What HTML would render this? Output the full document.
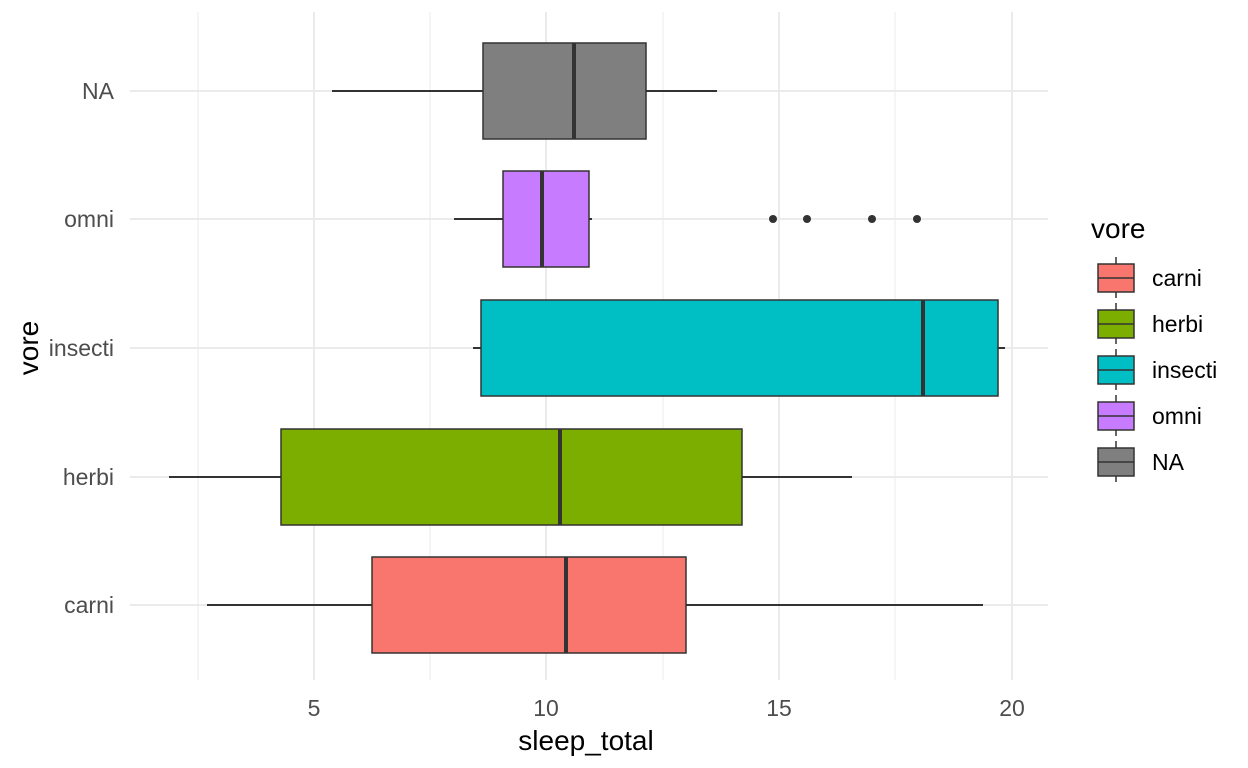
<!DOCTYPE html>
<html><head><meta charset="utf-8"><style>body{margin:0;background:#fff}svg{display:block;font-family:"Liberation Sans",sans-serif}</style></head><body>
<svg width="1248" height="768" viewBox="0 0 1248 768">
<g stroke="#ebebeb" stroke-width="1">
<line x1="198" y1="12" x2="198" y2="680"/><line x1="430" y1="12" x2="430" y2="680"/><line x1="663" y1="12" x2="663" y2="680"/><line x1="895" y1="12" x2="895" y2="680"/>
</g>
<g stroke="#ebebeb" stroke-width="2">
<line x1="314" y1="12" x2="314" y2="680"/><line x1="546" y1="12" x2="546" y2="680"/><line x1="779" y1="12" x2="779" y2="680"/><line x1="1012" y1="12" x2="1012" y2="680"/>
<line x1="130" y1="91" x2="1048" y2="91"/><line x1="130" y1="219" x2="1048" y2="219"/><line x1="130" y1="348" x2="1048" y2="348"/><line x1="130" y1="477" x2="1048" y2="477"/><line x1="130" y1="605" x2="1048" y2="605"/>
</g>
<g stroke="#333" stroke-width="2">
<line x1="332" y1="91" x2="483" y2="91"/><line x1="646" y1="91" x2="717" y2="91"/>
<rect x="483" y="43" width="163" height="96" fill="#7f7f7f" stroke-width="1.5"/>
<line x1="574" y1="43" x2="574" y2="139" stroke-width="4"/>
<line x1="454" y1="219" x2="503" y2="219"/><line x1="589" y1="219" x2="592" y2="219"/>
<rect x="503" y="171" width="86" height="96" fill="#c77cff" stroke-width="1.5"/>
<line x1="542" y1="171" x2="542" y2="267" stroke-width="4"/>
<line x1="473" y1="348" x2="481" y2="348"/><line x1="998" y1="348" x2="1005" y2="348"/>
<rect x="481" y="300" width="517" height="96" fill="#00bfc4" stroke-width="1.5"/>
<line x1="923" y1="300" x2="923" y2="396" stroke-width="4"/>
<line x1="169" y1="477" x2="281" y2="477"/><line x1="742" y1="477" x2="852" y2="477"/>
<rect x="281" y="429" width="461" height="96" fill="#7cae00" stroke-width="1.5"/>
<line x1="560" y1="429" x2="560" y2="525" stroke-width="4"/>
<line x1="207" y1="605" x2="372" y2="605"/><line x1="686" y1="605" x2="983" y2="605"/>
<rect x="372" y="557" width="314" height="96" fill="#f8766d" stroke-width="1.5"/>
<line x1="566" y1="557" x2="566" y2="653" stroke-width="4"/>
</g>
<g fill="#333"><circle cx="773" cy="219" r="4"/><circle cx="807" cy="219" r="4"/><circle cx="872" cy="219" r="4"/><circle cx="917" cy="219" r="4"/></g>
<g fill="#4d4d4d" font-size="23" text-anchor="middle">
<text x="314" y="716">5</text><text x="546" y="716">10</text><text x="779" y="716">15</text><text x="1012" y="716">20</text>
</g>
<g fill="#4d4d4d" font-size="23" text-anchor="end">
<text x="114" y="99">NA</text><text x="114" y="227">omni</text><text x="114" y="356">insecti</text><text x="114" y="485">herbi</text><text x="114" y="613">carni</text>
</g>
<text x="586" y="750" font-size="28" text-anchor="middle" fill="#000">sleep_total</text>
<text transform="translate(38,348) rotate(-90)" font-size="28" text-anchor="middle" fill="#000">vore</text>
<text x="1091" y="238" font-size="28" fill="#000">vore</text>
<g stroke="#333" stroke-width="1.5">
<line x1="1116" y1="257" x2="1116" y2="298"/><rect x="1098" y="264" width="36" height="28" fill="#f8766d"/><line x1="1098" y1="278" x2="1134" y2="278"/>
<line x1="1116" y1="303" x2="1116" y2="344"/><rect x="1098" y="310" width="36" height="28" fill="#7cae00"/><line x1="1098" y1="324" x2="1134" y2="324"/>
<line x1="1116" y1="349" x2="1116" y2="390"/><rect x="1098" y="356" width="36" height="28" fill="#00bfc4"/><line x1="1098" y1="370" x2="1134" y2="370"/>
<line x1="1116" y1="395" x2="1116" y2="436"/><rect x="1098" y="402" width="36" height="28" fill="#c77cff"/><line x1="1098" y1="416" x2="1134" y2="416"/>
<line x1="1116" y1="441" x2="1116" y2="482"/><rect x="1098" y="448" width="36" height="28" fill="#7f7f7f"/><line x1="1098" y1="462" x2="1134" y2="462"/>
</g>
<g font-size="23" fill="#000">
<text x="1152" y="286">carni</text><text x="1152" y="332">herbi</text><text x="1152" y="378">insecti</text><text x="1152" y="424">omni</text><text x="1152" y="470">NA</text>
</g>
</svg>
</body></html>
